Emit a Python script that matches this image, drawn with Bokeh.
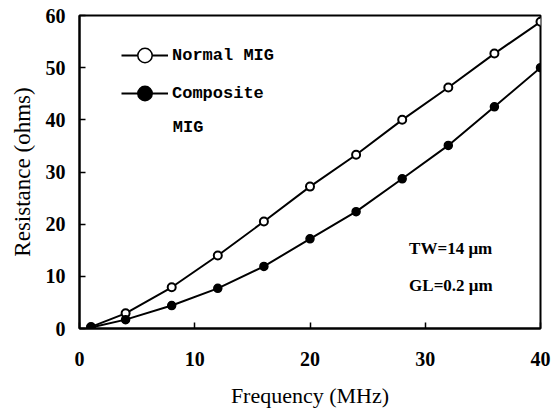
from bokeh.plotting import figure
from bokeh.models import Legend, LegendItem, Label, Range1d, FixedTicker
from bokeh.embed import file_html
from bokeh.resources import INLINE

freq = [1, 4, 8, 12, 16, 20, 24, 28, 32, 36, 40]
normal_mig = [0.3, 2.9, 7.9, 14.0, 20.5, 27.2, 33.3, 40.0, 46.2, 52.7, 58.8]
composite_mig = [0.2, 1.7, 4.4, 7.7, 11.9, 17.2, 22.4, 28.7, 35.1, 42.5, 50.0]
x_ticks = [0, 10, 20, 30, 40]
y_ticks = [0, 10, 20, 30, 40, 50, 60]

SERIF = "Liberation Serif"
MONO = "Liberation Mono"

p = figure(width=552, height=410, output_backend="svg", toolbar_location=None,
           x_range=Range1d(0, 40), y_range=Range1d(0, 60),
           min_border_left=79, min_border_right=12, min_border_top=15,
           min_border_bottom=82)
p.grid.visible = False
p.outline_line_color = "black"
p.outline_line_width = 2
p.background_fill_color = "white"
p.border_fill_color = "white"

# Axes
p.xaxis.ticker = FixedTicker(ticks=x_ticks)
p.yaxis.ticker = FixedTicker(ticks=y_ticks)
for ax in (p.xaxis[0], p.yaxis[0]):
    ax.axis_line_color = "black"
    ax.axis_line_width = 2
    ax.major_tick_in = 6
    ax.major_tick_out = 0
    ax.minor_tick_line_color = None
    ax.major_tick_line_width = 1.5
    ax.major_label_text_font = SERIF
    ax.major_label_text_font_style = "bold"
    ax.major_label_text_font_size = "20px"
    ax.major_label_text_color = "black"
    ax.axis_label_text_font = SERIF
    ax.axis_label_text_font_style = "normal"
    ax.axis_label_text_font_size = "22px"
    ax.axis_label_text_color = "black"

p.xaxis.axis_label = "Frequency (MHz)"
p.yaxis.axis_label = "Resistance (ohms)"
p.yaxis.axis_label_text_font_size = "23px"
p.xaxis.major_label_standoff = 23
p.xaxis.axis_label_standoff = 14
p.yaxis.major_label_standoff = 14
p.yaxis.axis_label_standoff = 8

# Data
ln1 = p.line(freq, normal_mig, line_color="black", line_width=2)
sc1 = p.scatter(freq, normal_mig, marker="circle", size=8, fill_color="white",
                line_color="black", line_width=2)
ln2 = p.line(freq, composite_mig, line_color="black", line_width=2)
sc2 = p.scatter(freq, composite_mig, marker="circle", size=8, fill_color="black",
                line_color="black", line_width=1.5)

# larger markers for legend only
lg1 = p.scatter(freq, normal_mig, marker="circle", size=15, fill_color="white",
                line_color="black", line_width=1.5, visible=False)
lg2 = p.scatter(freq, composite_mig, marker="circle", size=15, fill_color="black",
                line_color="black", line_width=1.5, visible=False)

legend = Legend(items=[LegendItem(label="Normal MIG", renderers=[ln1, lg1]),
                       LegendItem(label="Composite", renderers=[ln2, lg2])],
                location=(42, 217), orientation="vertical",
                glyph_width=47, glyph_height=36, label_height=36,
                label_width=10, spacing=2, padding=0, margin=0,
                label_standoff=4,
                label_text_font=MONO, label_text_font_style="bold",
                label_text_font_size="17px", label_text_color="black",
                background_fill_alpha=0, border_line_alpha=0,
                inactive_fill_alpha=0)
p.add_layout(legend, "center")

p.add_layout(Label(x=8.1, y=38.5, text="MIG", text_font=MONO,
                   text_font_style="bold", text_font_size="17px",
                   text_baseline="middle", text_color="black"))
p.add_layout(Label(x=28.6, y=15.3, text="TW=14 μm", text_font=SERIF,
                   text_font_style="bold", text_font_size="17px",
                   text_baseline="middle", text_color="black"))
p.add_layout(Label(x=28.6, y=8.2, text="GL=0.2 μm", text_font=SERIF,
                   text_font_style="bold", text_font_size="17px",
                   text_baseline="middle", text_color="black"))

open("out.html", "w").write(file_html(p, INLINE))
